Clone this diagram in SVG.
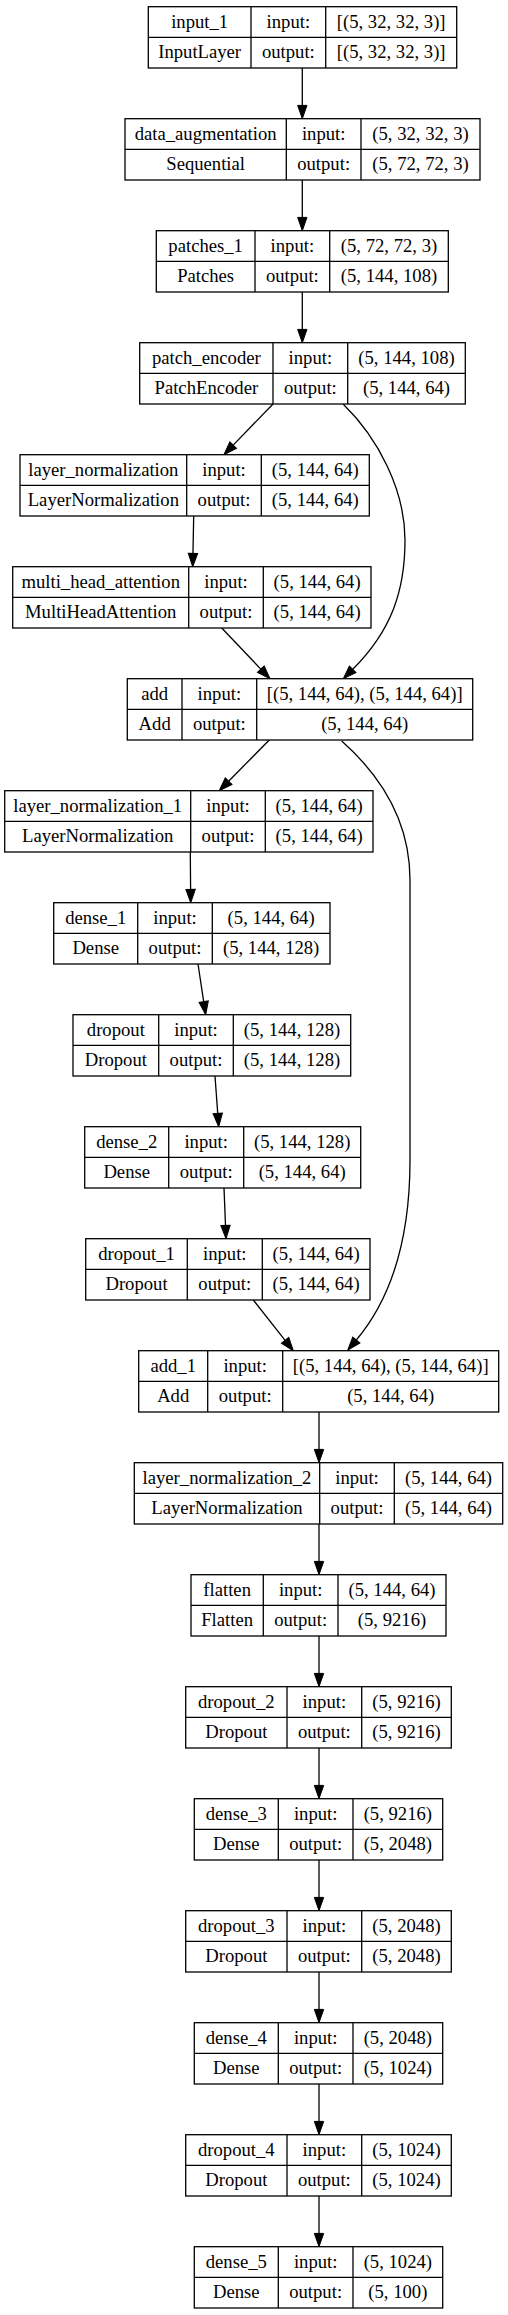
<svg xmlns="http://www.w3.org/2000/svg" width="508" height="2315" viewBox="0 0 508 2315">
<defs>
<style>
.b{fill:#fff;stroke:#000;stroke-width:1.3}
.d{stroke:#000;stroke-width:1.3}
text{font-family:"Liberation Serif","Times New Roman",serif;font-size:18.67px;text-anchor:middle;fill:#000}
.e{fill:none;stroke:#000;stroke-width:1.3}
</style>
<marker id="ah" markerUnits="userSpaceOnUse" markerWidth="15" markerHeight="11" refX="0" refY="4.67" orient="auto" overflow="visible">
<path d="M0,0 L13.3,4.67 L0,9.33 Z" fill="#000" stroke="#000" stroke-width="1"/>
</marker>
</defs>
<rect width="508" height="2315" fill="#fff"/>

<g id="connectors">
<path class="e" marker-end="url(#ah)" d="M302.3,68 L302.3,105.4"/>
<path class="e" marker-end="url(#ah)" d="M302.3,180 L302.3,217.4"/>
<path class="e" marker-end="url(#ah)" d="M302.3,292 L302.3,329.4"/>
<path class="e" marker-end="url(#ah)" d="M273,404 L233.2,445.1"/>
<path class="e" marker-end="url(#ah)" d="M343.3,404.3 C378,438 405,490 405,540 C405,590 392,630 352.7,669.3"/>
<path class="e" marker-end="url(#ah)" d="M193.7,516 L192.96,553.4"/>
<path class="e" marker-end="url(#ah)" d="M221.7,628 L260.8,669.1"/>
<path class="e" marker-end="url(#ah)" d="M269.3,740 L228.6,781.2"/>
<path class="e" marker-end="url(#ah)" d="M341.7,741 C380,775 410,820 410,880 L410,1160 C410,1240 390,1300 356.3,1340"/>
<path class="e" marker-end="url(#ah)" d="M190.3,852 L190.6,889.4"/>
<path class="e" marker-end="url(#ah)" d="M198,964 L203.7,1001.6"/>
<path class="e" marker-end="url(#ah)" d="M215,1076 L217.73,1113.4"/>
<path class="e" marker-end="url(#ah)" d="M224,1188 L225.5,1225.4"/>
<path class="e" marker-end="url(#ah)" d="M253.3,1300 L285.1,1340.3"/>
<path class="e" marker-end="url(#ah)" d="M319,1412 L319,1449.4"/>
<path class="e" marker-end="url(#ah)" d="M319,1524 L319,1561.4"/>
<path class="e" marker-end="url(#ah)" d="M319,1636 L319,1673.4"/>
<path class="e" marker-end="url(#ah)" d="M319,1748 L319,1785.4"/>
<path class="e" marker-end="url(#ah)" d="M319,1860 L319,1897.4"/>
<path class="e" marker-end="url(#ah)" d="M319,1972 L319,2009.4"/>
<path class="e" marker-end="url(#ah)" d="M319,2084 L319,2121.4"/>
<path class="e" marker-end="url(#ah)" d="M319,2196 L319,2233.4"/>
</g>

<g id="input_1" transform="translate(0,6.7)">
<rect class="b" x="148.3" y="0" width="308.4" height="61.3"/>
<path class="d" d="M148.3,30.7H456.7M251,0V61.3M325.7,0V61.3"/>
<text x="199.65" y="21">input_1</text><text x="288.35" y="21">input:</text><text x="391.2" y="21">[(5, 32, 32, 3)]</text>
<text x="199.65" y="51.7">InputLayer</text><text x="288.35" y="51.7">output:</text><text x="391.2" y="51.7">[(5, 32, 32, 3)]</text>
</g>

<g id="data_augmentation" transform="translate(0,118.7)">
<rect class="b" x="125" y="0" width="355" height="61.3"/>
<path class="d" d="M125,30.7H480M286.3,0V61.3M361,0V61.3"/>
<text x="205.65" y="21">data_augmentation</text><text x="323.65" y="21">input:</text><text x="420.5" y="21">(5, 32, 32, 3)</text>
<text x="205.65" y="51.7">Sequential</text><text x="323.65" y="51.7">output:</text><text x="420.5" y="51.7">(5, 72, 72, 3)</text>
</g>

<g id="patches_1" transform="translate(0,230.7)">
<rect class="b" x="156.3" y="0" width="292" height="61.3"/>
<path class="d" d="M156.3,30.7H448.3M255,0V61.3M329.7,0V61.3"/>
<text x="205.65" y="21">patches_1</text><text x="292.35" y="21">input:</text><text x="389" y="21">(5, 72, 72, 3)</text>
<text x="205.65" y="51.7">Patches</text><text x="292.35" y="51.7">output:</text><text x="389" y="51.7">(5, 144, 108)</text>
</g>

<g id="patch_encoder" transform="translate(0,342.7)">
<rect class="b" x="139.7" y="0" width="325.6" height="61.3"/>
<path class="d" d="M139.7,30.7H465.3M273,0V61.3M347.7,0V61.3"/>
<text x="206.35" y="21">patch_encoder</text><text x="310.35" y="21">input:</text><text x="406.5" y="21">(5, 144, 108)</text>
<text x="206.35" y="51.7">PatchEncoder</text><text x="310.35" y="51.7">output:</text><text x="406.5" y="51.7">(5, 144, 64)</text>
</g>

<g id="layer_normalization" transform="translate(0,454.7)">
<rect class="b" x="20" y="0" width="349.3" height="61.3"/>
<path class="d" d="M20,30.7H369.3M186.7,0V61.3M261.3,0V61.3"/>
<text x="103.35" y="21">layer_normalization</text><text x="224" y="21">input:</text><text x="315.3" y="21">(5, 144, 64)</text>
<text x="103.35" y="51.7">LayerNormalization</text><text x="224" y="51.7">output:</text><text x="315.3" y="51.7">(5, 144, 64)</text>
</g>

<g id="multi_head_attention" transform="translate(0,566.7)">
<rect class="b" x="12.7" y="0" width="358.3" height="61.3"/>
<path class="d" d="M12.7,30.7H371M188.7,0V61.3M263.3,0V61.3"/>
<text x="100.7" y="21">multi_head_attention</text><text x="226" y="21">input:</text><text x="317.15" y="21">(5, 144, 64)</text>
<text x="100.7" y="51.7">MultiHeadAttention</text><text x="226" y="51.7">output:</text><text x="317.15" y="51.7">(5, 144, 64)</text>
</g>

<g id="add" transform="translate(0,678.7)">
<rect class="b" x="127.3" y="0" width="345.4" height="61.3"/>
<path class="d" d="M127.3,30.7H472.7M182,0V61.3M256.7,0V61.3"/>
<text x="154.65" y="21">add</text><text x="219.35" y="21">input:</text><text x="364.7" y="21">[(5, 144, 64), (5, 144, 64)]</text>
<text x="154.65" y="51.7">Add</text><text x="219.35" y="51.7">output:</text><text x="364.7" y="51.7">(5, 144, 64)</text>
</g>

<g id="layer_normalization_1" transform="translate(0,790.7)">
<rect class="b" x="4.7" y="0" width="368.3" height="61.3"/>
<path class="d" d="M4.7,30.7H373M190.7,0V61.3M265.3,0V61.3"/>
<text x="97.7" y="21">layer_normalization_1</text><text x="228" y="21">input:</text><text x="319.15" y="21">(5, 144, 64)</text>
<text x="97.7" y="51.7">LayerNormalization</text><text x="228" y="51.7">output:</text><text x="319.15" y="51.7">(5, 144, 64)</text>
</g>

<g id="dense_1" transform="translate(0,902.7)">
<rect class="b" x="53.7" y="0" width="276.3" height="61.3"/>
<path class="d" d="M53.7,30.7H330M137.7,0V61.3M212.3,0V61.3"/>
<text x="95.7" y="21">dense_1</text><text x="175" y="21">input:</text><text x="271.15" y="21">(5, 144, 64)</text>
<text x="95.7" y="51.7">Dense</text><text x="175" y="51.7">output:</text><text x="271.15" y="51.7">(5, 144, 128)</text>
</g>

<g id="dropout" transform="translate(0,1014.7)">
<rect class="b" x="73" y="0" width="277.7" height="61.3"/>
<path class="d" d="M73,30.7H350.7M158.7,0V61.3M233.3,0V61.3"/>
<text x="115.85" y="21">dropout</text><text x="196" y="21">input:</text><text x="292" y="21">(5, 144, 128)</text>
<text x="115.85" y="51.7">Dropout</text><text x="196" y="51.7">output:</text><text x="292" y="51.7">(5, 144, 128)</text>
</g>

<g id="dense_2" transform="translate(0,1126.7)">
<rect class="b" x="84.7" y="0" width="276" height="61.3"/>
<path class="d" d="M84.7,30.7H360.7M168.7,0V61.3M243.7,0V61.3"/>
<text x="126.7" y="21">dense_2</text><text x="206.2" y="21">input:</text><text x="302.2" y="21">(5, 144, 128)</text>
<text x="126.7" y="51.7">Dense</text><text x="206.2" y="51.7">output:</text><text x="302.2" y="51.7">(5, 144, 64)</text>
</g>

<g id="dropout_1" transform="translate(0,1238.7)">
<rect class="b" x="85.7" y="0" width="284.3" height="61.3"/>
<path class="d" d="M85.7,30.7H370M187.3,0V61.3M262.3,0V61.3"/>
<text x="136.5" y="21">dropout_1</text><text x="224.8" y="21">input:</text><text x="316.15" y="21">(5, 144, 64)</text>
<text x="136.5" y="51.7">Dropout</text><text x="224.8" y="51.7">output:</text><text x="316.15" y="51.7">(5, 144, 64)</text>
</g>

<g id="add_1" transform="translate(0,1350.7)">
<rect class="b" x="138.7" y="0" width="360" height="61.3"/>
<path class="d" d="M138.7,30.7H498.7M207.7,0V61.3M282.7,0V61.3"/>
<text x="173.2" y="21">add_1</text><text x="245.2" y="21">input:</text><text x="390.7" y="21">[(5, 144, 64), (5, 144, 64)]</text>
<text x="173.2" y="51.7">Add</text><text x="245.2" y="51.7">output:</text><text x="390.7" y="51.7">(5, 144, 64)</text>
</g>

<g id="layer_normalization_2" transform="translate(0,1462.7)">
<rect class="b" x="134.3" y="0" width="368.4" height="61.3"/>
<path class="d" d="M134.3,30.7H502.7M319.7,0V61.3M394.3,0V61.3"/>
<text x="227" y="21">layer_normalization_2</text><text x="357" y="21">input:</text><text x="448.5" y="21">(5, 144, 64)</text>
<text x="227" y="51.7">LayerNormalization</text><text x="357" y="51.7">output:</text><text x="448.5" y="51.7">(5, 144, 64)</text>
</g>

<g id="flatten" transform="translate(0,1574.7)">
<rect class="b" x="191" y="0" width="255" height="61.3"/>
<path class="d" d="M191,30.7H446M263.3,0V61.3M338,0V61.3"/>
<text x="227.15" y="21">flatten</text><text x="300.65" y="21">input:</text><text x="392" y="21">(5, 144, 64)</text>
<text x="227.15" y="51.7">Flatten</text><text x="300.65" y="51.7">output:</text><text x="392" y="51.7">(5, 9216)</text>
</g>

<g id="dropout_2" transform="translate(0,1686.7)">
<rect class="b" x="185.7" y="0" width="265.6" height="61.3"/>
<path class="d" d="M185.7,30.7H451.3M287,0V61.3M361.7,0V61.3"/>
<text x="236.35" y="21">dropout_2</text><text x="324.35" y="21">input:</text><text x="406.5" y="21">(5, 9216)</text>
<text x="236.35" y="51.7">Dropout</text><text x="324.35" y="51.7">output:</text><text x="406.5" y="51.7">(5, 9216)</text>
</g>

<g id="dense_3" transform="translate(0,1798.7)">
<rect class="b" x="194.3" y="0" width="248.4" height="61.3"/>
<path class="d" d="M194.3,30.7H442.7M278.3,0V61.3M353,0V61.3"/>
<text x="236.3" y="21">dense_3</text><text x="315.65" y="21">input:</text><text x="397.85" y="21">(5, 9216)</text>
<text x="236.3" y="51.7">Dense</text><text x="315.65" y="51.7">output:</text><text x="397.85" y="51.7">(5, 2048)</text>
</g>

<g id="dropout_3" transform="translate(0,1910.7)">
<rect class="b" x="185.7" y="0" width="265.6" height="61.3"/>
<path class="d" d="M185.7,30.7H451.3M287,0V61.3M361.7,0V61.3"/>
<text x="236.35" y="21">dropout_3</text><text x="324.35" y="21">input:</text><text x="406.5" y="21">(5, 2048)</text>
<text x="236.35" y="51.7">Dropout</text><text x="324.35" y="51.7">output:</text><text x="406.5" y="51.7">(5, 2048)</text>
</g>

<g id="dense_4" transform="translate(0,2022.7)">
<rect class="b" x="194.3" y="0" width="248.4" height="61.3"/>
<path class="d" d="M194.3,30.7H442.7M278.3,0V61.3M353,0V61.3"/>
<text x="236.3" y="21">dense_4</text><text x="315.65" y="21">input:</text><text x="397.85" y="21">(5, 2048)</text>
<text x="236.3" y="51.7">Dense</text><text x="315.65" y="51.7">output:</text><text x="397.85" y="51.7">(5, 1024)</text>
</g>

<g id="dropout_4" transform="translate(0,2134.7)">
<rect class="b" x="185.7" y="0" width="265.6" height="61.3"/>
<path class="d" d="M185.7,30.7H451.3M287,0V61.3M361.7,0V61.3"/>
<text x="236.35" y="21">dropout_4</text><text x="324.35" y="21">input:</text><text x="406.5" y="21">(5, 1024)</text>
<text x="236.35" y="51.7">Dropout</text><text x="324.35" y="51.7">output:</text><text x="406.5" y="51.7">(5, 1024)</text>
</g>

<g id="dense_5" transform="translate(0,2246.7)">
<rect class="b" x="194.3" y="0" width="248.4" height="61.3"/>
<path class="d" d="M194.3,30.7H442.7M278.3,0V61.3M353,0V61.3"/>
<text x="236.3" y="21">dense_5</text><text x="315.65" y="21">input:</text><text x="397.85" y="21">(5, 1024)</text>
<text x="236.3" y="51.7">Dense</text><text x="315.65" y="51.7">output:</text><text x="397.85" y="51.7">(5, 100)</text>
</g>
</svg>
